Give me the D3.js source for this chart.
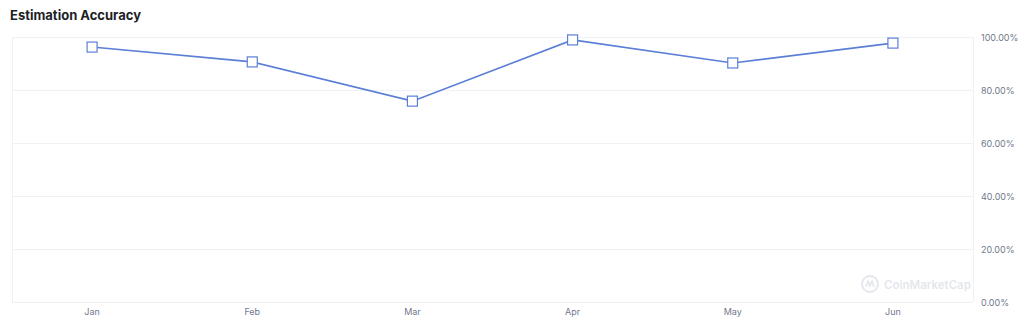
<!DOCTYPE html>
<html>
<head>
<meta charset="utf-8">
<script src="https://cdn.jsdelivr.net/npm/d3@7"></script>
<style>
  body { margin: 0; background: #fff; font-family: Inter, "Noto Sans", sans-serif; }
</style>
</head>
<body>
<div id="chart"></div>
<script>
// chart data
const months = ["Jan", "Feb", "Mar", "Apr", "May", "Jun"];
const accuracy = [96.2, 90.6, 75.8, 98.9, 90.2, 97.7];
const yTicks = [0, 20, 40, 60, 80, 100];

const width = 1024;
const height = 325;
const margin = {left: 12, right: 51, top: 37, bottom: 23};
const lineColor = "#5b7fd6";

const svg = d3.select("#chart")
    .append("svg")
    .attr("width", width)
    .attr("height", height);

svg.append("text")
    .attr("x", 10)
    .attr("y", 20)
    .attr("font-size", "13px")
    .attr("font-weight", 700)
    .attr("fill", "#1c1f26")
    .text("Estimation Accuracy");

let xScale = d3.scaleBand()
    .domain(months)
    .range([margin.left, width - margin.right]);

let yScale = d3.scaleLinear()
    .domain([0, 100])
    .range([height - margin.bottom, margin.top]);

// gridlines
svg.append("g")
    .selectAll("line")
    .data(yTicks)
    .enter()
    .append("line")
        .attr("x1", margin.left)
        .attr("x2", width - margin.right)
        .attr("y1", d => yScale(d) + 0.5)
        .attr("y2", d => yScale(d) + 0.5)
        .attr("stroke", "#eff2f5");

// plot borders left / right
[margin.left, width - margin.right].forEach(x => {
    svg.append("line")
        .attr("x1", x + 0.5).attr("x2", x + 0.5)
        .attr("y1", yScale(100)).attr("y2", yScale(0))
        .attr("stroke", "#eff2f5");
});

// y axis on the right
const yAxis = svg.append("g")
    .attr("transform", `translate(${width - margin.right}, 1)`)
    .call(d3.axisRight(yScale).tickValues(yTicks).tickSize(0).tickPadding(8)
        .tickFormat(d => d.toFixed(2) + "%"));
yAxis.select(".domain").remove();
yAxis.selectAll("text").attr("font-size", "9px").attr("fill", "#707a8a")
    .attr("font-family", "Inter, sans-serif");

// x axis
const xAxis = svg.append("g")
    .attr("transform", `translate(0, ${height - margin.bottom})`)
    .call(d3.axisBottom(xScale).tickSize(0).tickPadding(7));
xAxis.select(".domain").remove();
xAxis.selectAll("text").attr("font-size", "9px").attr("fill", "#707a8a")
    .attr("font-family", "Inter, sans-serif");

// watermark
const wm = svg.append("g").attr("transform", "translate(870, 284)").attr("opacity", 0.3);
wm.append("circle").attr("r", 8).attr("fill", "none").attr("stroke", "#a6b0c3").attr("stroke-width", 1.8);
wm.append("path").attr("d", "M-4,3 L-2,-3 L0,2 L2,-3 L4,3")
    .attr("fill", "none").attr("stroke", "#a6b0c3").attr("stroke-width", 1.6);
wm.append("text").attr("x", 14).attr("y", 4.5).attr("font-size", "11.5px")
    .attr("font-weight", 600).attr("fill", "#a6b0c3").text("CoinMarketCap");

const cx = (d, i) => xScale(months[i]) + xScale.bandwidth() / 2;

const line = d3.line()
    .x((d, i) => cx(d, i))
    .y(d => yScale(d));

svg.append("path")
    .datum(accuracy)
    .attr("d", line)
    .attr("fill", "none")
    .attr("stroke", lineColor)
    .attr("stroke-width", 1.6);

svg.selectAll(".pt")
    .data(accuracy)
    .enter()
    .append("rect")
        .attr("class", "pt")
        .attr("x", (d, i) => cx(d, i) - 5)
        .attr("y", d => yScale(d) - 5)
        .attr("width", 10)
        .attr("height", 10)
        .attr("fill", "#fff")
        .attr("stroke", lineColor)
        .attr("stroke-width", 1.2);
</script>
</body>
</html>
